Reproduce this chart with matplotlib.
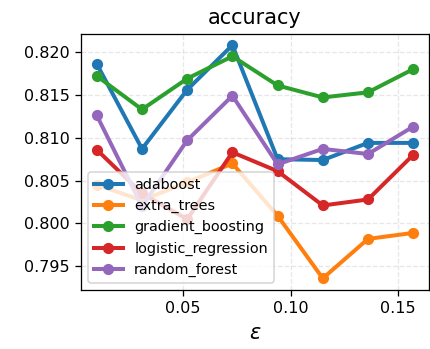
import numpy as np
import matplotlib.pyplot as plt

eps = [0.01, 0.031, 0.052, 0.073, 0.094, 0.115, 0.136, 0.157]
adaboost = [0.8186, 0.8087, 0.8156, 0.8208, 0.8075, 0.8074, 0.8094, 0.8094]
extra_trees = [0.8045, 0.8027, 0.8048, 0.8070, 0.8009, 0.7936, 0.7982, 0.7989]
gradient_boosting = [0.8172, 0.8133, 0.8169, 0.8195, 0.8161, 0.8147, 0.8153, 0.8180]
logistic_regression = [0.8086, 0.8035, 0.8005, 0.8083, 0.8061, 0.8021, 0.8028, 0.8080]
random_forest = [0.8126, 0.8020, 0.8097, 0.8149, 0.8069, 0.8087, 0.8081, 0.8113]

series = {
    'adaboost': adaboost,
    'extra_trees': extra_trees,
    'gradient_boosting': gradient_boosting,
    'logistic_regression': logistic_regression,
    'random_forest': random_forest,
}

dpi = 115
fig = plt.figure(figsize=(430 / dpi, 349 / dpi), dpi=dpi)
ax = fig.add_subplot(111)
fig.subplots_adjust(left=81 / 430, right=429 / 430, top=1 - 33.5 / 349, bottom=1 - 290 / 349)

for name, vals in series.items():
    ax.plot(eps, vals, marker='o', lw=2.5, markersize=6, label=name)

ax.grid(True, linestyle='--', alpha=0.3)
ax.set_title('accuracy', fontsize=13)
ax.set_xlabel(r'$\varepsilon$', fontsize=13)
ax.set_xticks([0.05, 0.10, 0.15])
ax.legend(loc='lower left', fontsize=9)

fig.savefig('out.png', dpi=dpi)
